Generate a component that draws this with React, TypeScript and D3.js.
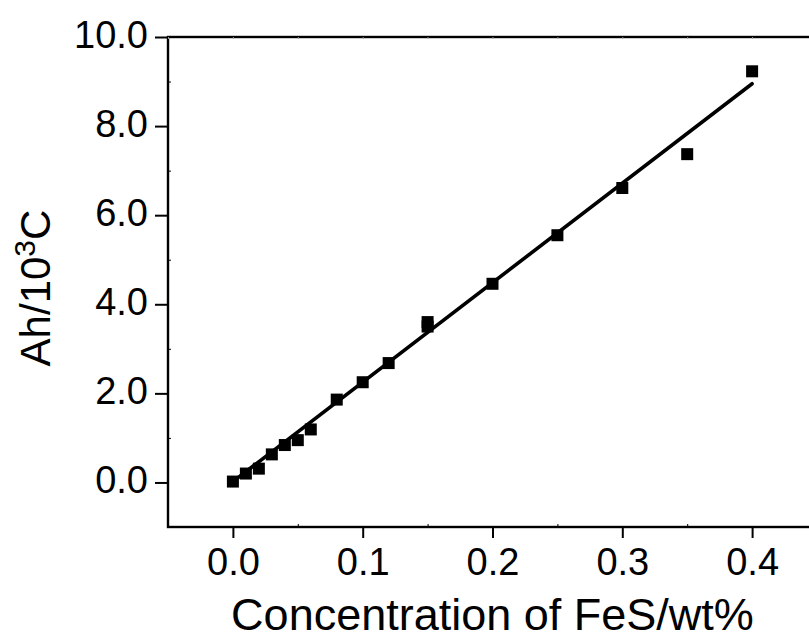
import React, { useEffect, useRef } from "react";
import * as d3 from "d3";

// FeS concentration (wt%) vs Ah (10^-3 C)
const concentration = [0, 0.01, 0.02, 0.03, 0.04, 0.05, 0.06, 0.08, 0.1, 0.12, 0.15, 0.15, 0.2, 0.25, 0.3, 0.35, 0.4];
const ahValues = [0.02, 0.2, 0.31, 0.63, 0.84, 0.95, 1.19, 1.86, 2.25, 2.68, 3.5, 3.6, 4.46, 5.55, 6.61, 7.37, 9.23];

// linear fit
const fitX = [0, 0.4];
const fitY = [0.02, 8.95];

const xTicks = [0, 0.1, 0.2, 0.3, 0.4];
const xMinorTicks = [-0.05, 0.05, 0.15, 0.25, 0.35, 0.45];
const yTicks = [0, 2, 4, 6, 8, 10];
const yMinorTicks = [-1, 1, 3, 5, 7, 9];

export default function App() {
  const svgRef = useRef<SVGSVGElement>(null);
  const width = 809;
  const height = 639;

  useEffect(() => {
    if (!svgRef.current) return;
    const svg = d3.select(svgRef.current);
    svg.selectAll("*").remove();

    const margin = { top: 37, right: -8, bottom: 112, left: 168 };
    const innerWidth = width - margin.left - margin.right;
    const innerHeight = height - margin.top - margin.bottom;
    const font = "'Liberation Sans', Arial, sans-serif";

    const x = d3.scaleLinear().domain([-0.05, 0.45]).range([0, innerWidth]);
    const y = d3.scaleLinear().domain([-1, 10]).range([innerHeight, 0]);

    const g = svg
      .append("g")
      .attr("transform", `translate(${margin.left},${margin.top})`);

    // frame
    g.append("rect")
      .attr("x", 0)
      .attr("y", 0)
      .attr("width", innerWidth)
      .attr("height", innerHeight)
      .attr("fill", "none")
      .attr("stroke", "#000")
      .attr("stroke-width", 2.4);

    // bottom axis
    const xAxis = g
      .append("g")
      .attr("transform", `translate(0,${innerHeight})`)
      .call(
        d3
          .axisBottom(x)
          .tickValues(xTicks)
          .tickSize(11)
          .tickPadding(10)
          .tickFormat(d3.format(".1f"))
      );
    xAxis.select(".domain").remove();
    xAxis.selectAll(".tick line").attr("stroke-width", 2);
    xAxis
      .selectAll("text")
      .attr("font-family", font)
      .attr("font-size", 38)
      .attr("dy", 0)
      .attr("y", 48);

    g.append("g")
      .attr("transform", `translate(0,${innerHeight})`)
      .call(d3.axisTop(x).tickValues(xMinorTicks).tickSize(3).tickFormat(() => ""))
      .call((a) => a.select(".domain").remove())
      .selectAll(".tick line")
      .attr("stroke-width", 1);

    // top axis, tiny inward ticks only
    g.append("g")
      .call(d3.axisBottom(x).tickValues([...xTicks, ...xMinorTicks]).tickSize(2).tickFormat(() => ""))
      .call((a) => a.select(".domain").remove())
      .selectAll(".tick line")
      .attr("stroke", "#999")
      .attr("stroke-width", 1);

    // left axis
    const yAxis = g.append("g").call(
      d3
        .axisLeft(y)
        .tickValues(yTicks)
        .tickSize(13)
        .tickPadding(7)
        .tickFormat(d3.format(".1f"))
    );
    yAxis.select(".domain").remove();
    yAxis.selectAll(".tick line").attr("stroke-width", 2);
    yAxis
      .selectAll("text")
      .attr("font-family", font)
      .attr("font-size", 38)
      .attr("dy", "10.5");

    g.append("g")
      .call(d3.axisRight(y).tickValues(yMinorTicks).tickSize(3).tickFormat(() => ""))
      .call((a) => a.select(".domain").remove())
      .selectAll(".tick line")
      .attr("stroke-width", 1);

    g.selectAll(".tick text").attr("fill", "#000");
    g.selectAll(".tick line").filter(function () {
      return d3.select(this).attr("stroke") === "currentColor";
    }).attr("stroke", "#000");

    // fit line
    const line = d3
      .line<number>()
      .x((d, i) => x(fitX[i]))
      .y((d) => y(d));
    g.append("path")
      .datum(fitY)
      .attr("fill", "none")
      .attr("stroke", "#000")
      .attr("stroke-width", 3.6)
      .attr("stroke-linecap", "round")
      .attr("d", line);

    // square markers
    const s = 12;
    g.selectAll(".pt")
      .data(concentration)
      .enter()
      .append("rect")
      .attr("class", "pt")
      .attr("x", (d) => x(d) - s / 2)
      .attr("y", (d, i) => y(ahValues[i]) - s / 2)
      .attr("width", s)
      .attr("height", s)
      .attr("fill", "#000");

    // axis titles
    svg
      .append("text")
      .attr("x", margin.left + x(0.2))
      .attr("y", 630)
      .attr("text-anchor", "middle")
      .attr("font-family", font)
      .attr("font-size", 45)
      .attr("fill", "#000")
      .text("Concentration of FeS/wt%");

    const yt = svg
      .append("text")
      .attr("transform", "translate(50,288) rotate(-90)")
      .attr("text-anchor", "middle")
      .attr("font-family", font)
      .attr("font-size", 42)
      .attr("fill", "#000");
    yt.append("tspan").text("Ah/10");
    yt.append("tspan").attr("font-size", 30).attr("dy", -15).text("3");
    yt.append("tspan").attr("dy", 15).text("C");
  }, []);

  return (
    <div>
      <style>{`body{margin:0;overflow:hidden;background:#fff}`}</style>
      <svg
        ref={svgRef}
        width={width}
        height={height}
        style={{ display: "block" }}
      />
    </div>
  );
}
